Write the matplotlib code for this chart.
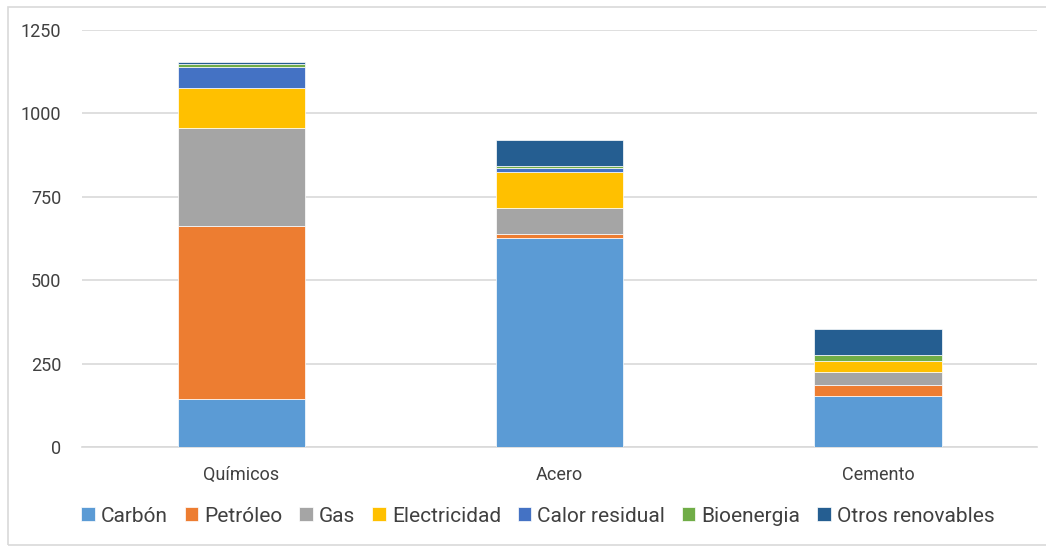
import matplotlib
matplotlib.use("Agg")
import matplotlib.pyplot as plt
from matplotlib.patches import Rectangle
import numpy as np

plt.rcParams['font.family'] = ['Roboto', 'DejaVu Sans']

categories = ["Químicos", "Acero", "Cemento"]
series_names = ["Carbón", "Petróleo", "Gas", "Electricidad", "Calor residual", "Bioenergia", "Otros renovables"]
carbon = [144, 626, 154]
petroleo = [519, 12, 32]
gas = [294, 77, 39]
electricidad = [120, 108, 33]
calor_residual = [63, 12, 0]
bioenergia = [8, 8, 19]
otros_renovables = [7, 76, 76]
yticks = [0, 250, 500, 750, 1000, 1250]

series = [carbon, petroleo, gas, electricidad, calor_residual, bioenergia, otros_renovables]
colors = ["#5B9BD5", "#ED7D31", "#A5A5A5", "#FFC000", "#4472C4", "#70AD47", "#255E91"]

W, H = 1046, 547
fig = plt.figure(figsize=(W/100, H/100), dpi=100)
fig.patches.append(Rectangle((8/W, 0.004), 1.2, 1-7/H-0.004, transform=fig.transFigure,
                             fill=False, edgecolor="#D9D9D9", linewidth=1.2))
ax = fig.add_axes([82/W, 1-447/H, (1037-82)/W, (447-30)/H])

x = np.arange(len(categories))
bottom = np.zeros(len(categories))
for name, vals, c in zip(series_names, series, colors):
    ax.bar(x, vals, bottom=bottom, width=0.4, color=c, edgecolor="white", linewidth=0.5,
           label=name, zorder=3)
    bottom += np.array(vals)

ax.set_xlim(-0.5, 2.5)
ax.set_ylim(0, 1250)
ax.set_yticks(yticks)
ax.set_yticklabels([str(t) for t in yticks])
ax.set_xticks(x)
ax.set_xticklabels(categories)
ax.yaxis.grid(True, color="#D9D9D9", linewidth=1.2, zorder=0)
ax.set_axisbelow(True)
for s in ["top", "right", "left"]:
    ax.spines[s].set_visible(False)
ax.spines["bottom"].set_color("#D9D9D9")
ax.spines["bottom"].set_linewidth(1.2)
ax.tick_params(axis="both", length=0, labelsize=13, colors="#404040")
ax.tick_params(axis="y", pad=15)
ax.tick_params(axis="x", pad=14)

leg = fig.legend(loc="center", bbox_to_anchor=(538/W, 1-516/H), ncol=7, frameon=False,
                 fontsize=15, handlelength=0.65, handleheight=0.65, handletextpad=0.3,
                 columnspacing=0.8, labelcolor="#404040")

fig.savefig("out.png", dpi=100)
